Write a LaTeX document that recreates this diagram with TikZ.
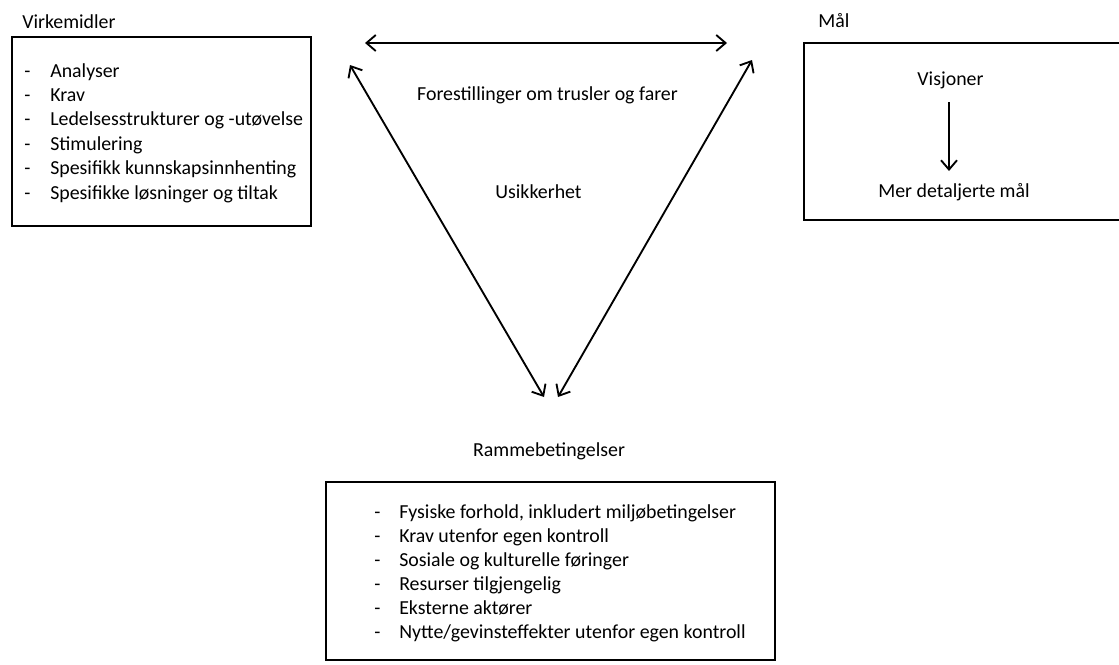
\documentclass[tikz,border=0pt]{standalone}
\usepackage{fontspec}
\setmainfont{Carlito}
\usetikzlibrary{arrows.meta}
\begin{document}
\begin{tikzpicture}[x=0.75pt,y=-0.75pt,
  box/.style={draw=black,line width=1.7pt},
  lbl/.style={inner sep=0pt,font=\fontsize{14.9}{18}\selectfont,anchor=base},
  item/.style={lbl,anchor=base west},
  arr/.style={line width=1.4pt,{Straight Barb[length=7pt,width=12pt,line width=1.4pt]}-{Straight Barb[length=7pt,width=12pt,line width=1.4pt]}},
  arrone/.style={line width=1.4pt,-{Straight Barb[length=7pt,width=12pt,line width=1.4pt]}}]
\useasboundingbox (0,0) rectangle (1119,664);
% Virkemidler
\node[item] (vt) at (22,28) {Virkemidler};
\draw[box] (12,37) rectangle (311,226);
\foreach \t [count=\i] in {Analyser,Krav,Ledelsesstrukturer og -utøvelse,Stimulering,Spesifikk kunnskapsinnhenting,Spesifikke løsninger og tiltak}{
  \node[item] (vd\i) at (24,{77+24.4*(\i-1)}) {-};
  \node[item] (vi\i) at (50,{77+24.4*(\i-1)}) {\t};
}
% Mål
\node[item] (mt) at (818,27) {Mål};
\draw[box] (804,43) rectangle (1125,220);
\node[lbl] (vis) at (950.5,85) {Visjoner};
\node[lbl] (mer) at (954,197) {Mer detaljerte mål};
\coordinate (va) at (949,102);
\coordinate (vb) at (949,171);
\draw[arrone] (va) -- (vb);
% Triangle
\coordinate (tl) at (365,43);
\coordinate (tr) at (727,43);
\coordinate (ll) at (350,65);
\coordinate (lb) at (544,397);
\coordinate (rr) at (752,60);
\coordinate (rb) at (558,397);
\draw[arr] (tl) -- (tr);
\draw[arr] (ll) -- (lb);
\draw[arr] (rr) -- (rb);
\node[lbl] (fo) at (547.5,100) {Forestillinger om trusler og farer};
\node[lbl] (us) at (538.5,198) {Usikkerhet};
% Rammebetingelser
\node[lbl] (rt) at (549,456) {Rammebetingelser};
\draw[box] (326,482) rectangle (775,660);
\foreach \t [count=\i] in {{Fysiske forhold, inkludert miljøbetingelser},Krav utenfor egen kontroll,Sosiale og kulturelle føringer,Resurser tilgjengelig,Eksterne aktører,Nytte/gevinsteffekter utenfor egen kontroll}{
  \node[item] (rd\i) at (374,{518+24*(\i-1)}) {-};
  \node[item] (ri\i) at (399,{518+24*(\i-1)}) {\t};
}
\end{tikzpicture}
\end{document}
